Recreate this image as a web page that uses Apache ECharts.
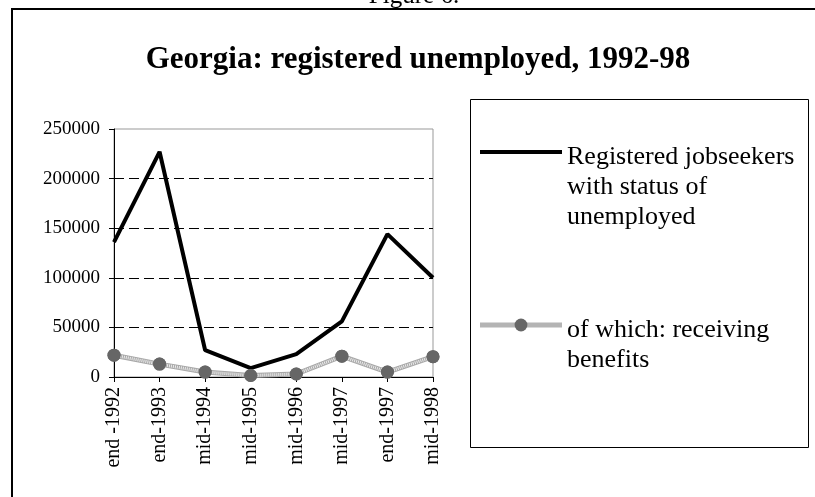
<!DOCTYPE html>
<html>
<head>
<meta charset="utf-8">
<script src="https://cdn.jsdelivr.net/npm/echarts@6/dist/echarts.min.js"></script>
<style>
  html, body { margin: 0; padding: 0; background: #fff; }
  #chart { width: 815px; height: 497px; }
</style>
</head>
<body>
<div id="chart"></div>
<script>
// ---- data ----
const categories = ['end -1992', 'end-1993', 'mid-1994', 'mid-1995', 'mid-1996', 'mid-1997', 'end-1997', 'mid-1998'];
const registeredUnemployed = [136000, 227000, 27000, 9000, 23000, 56000, 144000, 100000];
const receivingBenefits = [22000, 13000, 5000, 1500, 3000, 21000, 5000, 20500];
const seriesNames = ['Registered jobseekers with status of unemployed', 'of which: receiving benefits'];
const legendLabels = ['Registered jobseekers\nwith status of\nunemployed', 'of which: receiving\nbenefits'];
const yTicks = { min: 0, max: 250000, interval: 50000 };
const titleText = 'Georgia: registered unemployed, 1992-98';
const figureText = 'Figure 6.';

const serif = "'Times New Roman', 'Liberation Serif', 'DejaVu Serif', serif";

const chart = echarts.init(document.getElementById('chart'), null, { renderer: 'canvas' });

function legendFormatterWithGap(gapKey) {
  return function (name) {
    const lines = legendLabels[seriesNames.indexOf(name)].split('\n');
    return '{' + gapKey + '| }\n' + lines.map(function (l) { return '{t|' + l + '}'; }).join('\n');
  };
}

const legendRich = {
  g1: { fontSize: 1, lineHeight: 70, height: 70 },
  g2: { fontSize: 1, lineHeight: 40, height: 40 },
  t: { fontFamily: serif, fontSize: 26, lineHeight: 30, color: '#000' }
};

const option = {
  backgroundColor: '#ffffff',
  animation: false,
  graphic: [
    { type: 'rect', shape: { x: 12, y: 9, width: 900, height: 700 },
      style: { fill: 'none', stroke: '#000', lineWidth: 2 }, silent: true },
    { type: 'rect', shape: { x: 470.5, y: 99.5, width: 338, height: 348 },
      style: { fill: 'none', stroke: '#000', lineWidth: 1 }, silent: true },
    { type: 'text', x: 414, y: 9,
      style: { text: figureText, align: 'center', verticalAlign: 'bottom',
               fontFamily: serif, fontSize: 25, fill: '#000' }, silent: true },
    { type: 'text', x: 418, y: 44,
      style: { text: titleText, align: 'center', verticalAlign: 'top',
               fontFamily: serif, fontSize: 31, fontWeight: 'bold', fill: '#000' }, silent: true }
  ],
  legend: [
    {
      left: 480, top: 72, padding: 0, orient: 'vertical',
      itemWidth: 82, itemHeight: 4, selectedMode: false,
      formatter: legendFormatterWithGap('g1'),
      textStyle: { fontFamily: serif, fontSize: 26, color: '#000', rich: legendRich },
      data: [{ name: seriesNames[0], icon: 'rect' }]
    },
    {
      left: 477.5, top: 275, padding: 0, orient: 'vertical',
      itemWidth: 82, itemHeight: 16, selectedMode: false,
      formatter: legendFormatterWithGap('g2'),
      lineStyle: { width: 5, color: '#b4b4b4' },
      textStyle: { fontFamily: serif, fontSize: 26, color: '#000', rich: legendRich },
      data: [{ name: seriesNames[1] }]
    }
  ],
  grid: {
    left: 114, right: 382, top: 129, bottom: 120,
    show: true, borderColor: '#999', borderWidth: 1, backgroundColor: 'transparent'
  },
  xAxis: {
    type: 'category',
    data: categories,
    boundaryGap: false,
    axisLine: { show: true, lineStyle: { color: '#000', width: 1 } },
    axisTick: { show: true, length: 5, lineStyle: { color: '#000' } },
    axisLabel: { rotate: 90, margin: 10, fontFamily: serif, fontSize: 20, color: '#000', interval: 0 },
    splitLine: { show: false }
  },
  yAxis: {
    type: 'value',
    min: yTicks.min, max: yTicks.max, interval: yTicks.interval,
    axisLine: { show: true, lineStyle: { color: '#000', width: 1 } },
    axisTick: { show: true, length: 5, lineStyle: { color: '#000' } },
    axisLabel: { margin: 14, fontFamily: serif, fontSize: 19, color: '#000',
                 formatter: function (v) { return String(v); } },
    splitLine: { show: true, showMinLine: false, showMaxLine: false,
                 lineStyle: { color: '#000', width: 1, type: [10, 5] } }
  },
  series: [
    {
      name: seriesNames[1], type: 'line', data: receivingBenefits,
      symbol: 'circle', symbolSize: 13, showSymbol: true,
      lineStyle: { color: '#a8a8a8', width: 5 },
      itemStyle: { color: '#666666' },
      silent: true
    },
    {
      name: 'texture', type: 'line', data: receivingBenefits,
      symbol: 'none', showSymbol: false,
      lineStyle: { color: '#ececec', width: 3, type: [1, 1] },
      silent: true
    },
    {
      name: 'markers', type: 'line', data: receivingBenefits,
      symbol: 'circle', symbolSize: 13, showSymbol: true,
      lineStyle: { opacity: 0, width: 0 },
      itemStyle: { color: '#666666' },
      silent: true
    },
    {
      name: seriesNames[0], type: 'line', data: registeredUnemployed,
      symbol: 'none', showSymbol: false,
      lineStyle: { color: '#000', width: 4 },
      itemStyle: { color: '#000' },
      silent: true
    }
  ]
};

chart.setOption(option);
</script>
</body>
</html>
